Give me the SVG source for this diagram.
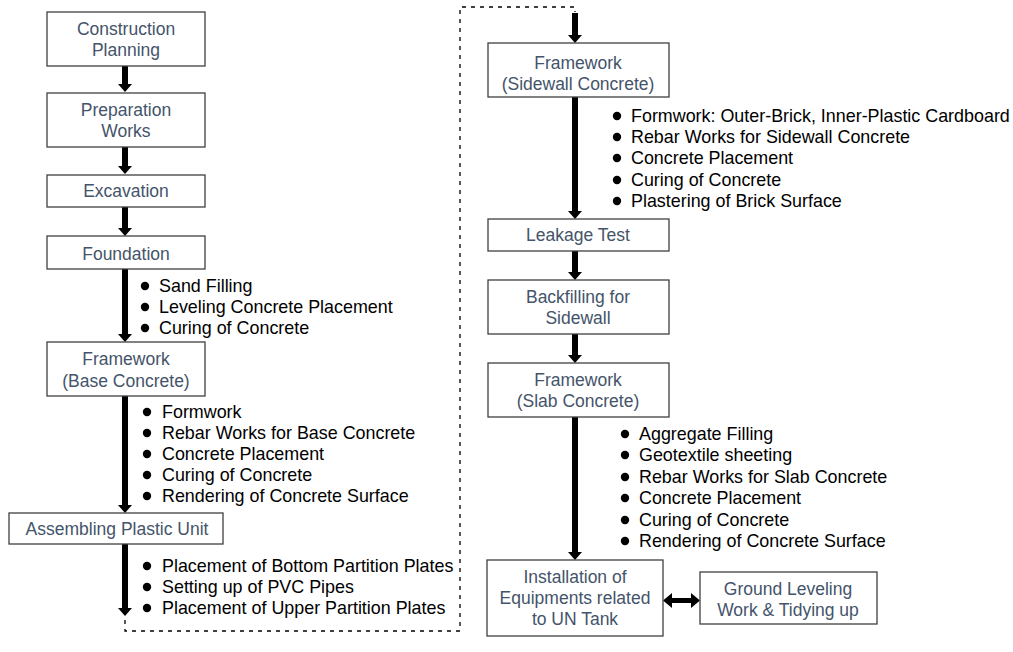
<svg xmlns="http://www.w3.org/2000/svg" width="1013" height="652" viewBox="0 0 1013 652">
<style>
.box{fill:#fff;stroke:#404040;stroke-width:1.3}
.bt{font-family:"Liberation Sans",Arial,sans-serif;font-size:17.5px;fill:#44546A;text-anchor:middle}
.li{font-family:"Liberation Sans",Arial,sans-serif;font-size:17.9px;fill:#000}
.dot{fill:#000}
.arr{fill:#000}
.dash{fill:none;stroke:#000;stroke-width:1.3;stroke-dasharray:4 5}
</style>
<rect width="1013" height="652" fill="#fff"/>
<g id="connectors">
<path class="arr" d="M122,66H128V84H132L125,92L118,84H122Z"/>
<path class="arr" d="M122,147H128V166H132L125,174L118,166H122Z"/>
<path class="arr" d="M122,207H128V228H132L125,236L118,228H122Z"/>
<path class="arr" d="M122,269H128V334H132L125,342L118,334H122Z"/>
<path class="arr" d="M122,396H128V505H132L125,513L118,505H122Z"/>
<path class="arr" d="M122,544H128V608H132L125,616L118,608H122Z"/>
<path class="dash" d="M125,620V631H460V7H575V12"/>
<path class="arr" d="M572,13H578V35H582L575,43L568,35H572Z"/>
<path class="arr" d="M572,97H578V211H582L575,219L568,211H572Z"/>
<path class="arr" d="M572,251H578V272H582L575,280L568,272H572Z"/>
<path class="arr" d="M572,334H578V355H582L575,363L568,355H572Z"/>
<path class="arr" d="M572,417H578V552H582L575,560L568,552H572Z"/>
<path class="arr" d="M663,600.5L672,593V598H691V593L700,600.5L691,608V603H672V608Z"/>
</g>
<g id="n1"><rect class="box" x="47" y="12" width="158" height="54"/><text class="bt" x="126" y="35">Construction</text><text class="bt" x="126" y="56">Planning</text></g>
<g id="n2"><rect class="box" x="47" y="93" width="158" height="54"/><text class="bt" x="126" y="116">Preparation</text><text class="bt" x="126" y="137">Works</text></g>
<g id="n3"><rect class="box" x="47" y="175" width="158" height="32"/><text class="bt" x="126" y="197">Excavation</text></g>
<g id="n4"><rect class="box" x="47" y="236" width="158" height="33"/><text class="bt" x="126" y="260">Foundation</text></g>
<g id="l4">
<circle class="dot" cx="145" cy="286" r="4.2"/><text class="li" x="159" y="292">Sand Filling</text>
<circle class="dot" cx="145" cy="307" r="4.2"/><text class="li" x="159" y="313">Leveling Concrete Placement</text>
<circle class="dot" cx="145" cy="328" r="4.2"/><text class="li" x="159" y="334">Curing of Concrete</text>
</g>
<g id="n5"><rect class="box" x="47" y="342" width="158" height="54"/><text class="bt" x="126" y="365">Framework</text><text class="bt" x="126" y="387">(Base Concrete)</text></g>
<g id="l5">
<circle class="dot" cx="147" cy="412" r="4.2"/><text class="li" x="162" y="418">Formwork</text>
<circle class="dot" cx="147" cy="433" r="4.2"/><text class="li" x="162" y="439">Rebar Works for Base Concrete</text>
<circle class="dot" cx="147" cy="454" r="4.2"/><text class="li" x="162" y="460">Concrete Placement</text>
<circle class="dot" cx="147" cy="475" r="4.2"/><text class="li" x="162" y="481">Curing of Concrete</text>
<circle class="dot" cx="147" cy="496" r="4.2"/><text class="li" x="162" y="502">Rendering of Concrete Surface</text>
</g>
<g id="n6"><rect class="box" x="9" y="513" width="214" height="31"/><text class="bt" x="117" y="535">Assembling Plastic Unit</text></g>
<g id="l6">
<circle class="dot" cx="147" cy="566" r="4.2"/><text class="li" x="162" y="572">Placement of Bottom Partition Plates</text>
<circle class="dot" cx="147" cy="587" r="4.2"/><text class="li" x="162" y="593">Setting up of PVC Pipes</text>
<circle class="dot" cx="147" cy="608" r="4.2"/><text class="li" x="162" y="614">Placement of Upper Partition Plates</text>
</g>
<g id="n7"><rect class="box" x="488" y="43" width="181" height="54"/><text class="bt" x="578" y="69">Framework</text><text class="bt" x="578" y="90">(Sidewall Concrete)</text></g>
<g id="l7">
<circle class="dot" cx="617" cy="116" r="4.2"/><text class="li" x="631" y="122">Formwork: Outer-Brick, Inner-Plastic Cardboard</text>
<circle class="dot" cx="617" cy="137" r="4.2"/><text class="li" x="631" y="143">Rebar Works for Sidewall Concrete</text>
<circle class="dot" cx="617" cy="158" r="4.2"/><text class="li" x="631" y="164">Concrete Placement</text>
<circle class="dot" cx="617" cy="180" r="4.2"/><text class="li" x="631" y="186">Curing of Concrete</text>
<circle class="dot" cx="617" cy="201" r="4.2"/><text class="li" x="631" y="207">Plastering of Brick Surface</text>
</g>
<g id="n8"><rect class="box" x="488" y="219" width="181" height="32"/><text class="bt" x="578" y="241">Leakage Test</text></g>
<g id="n9"><rect class="box" x="488" y="280" width="181" height="54"/><text class="bt" x="578" y="303">Backfilling for</text><text class="bt" x="578" y="324">Sidewall</text></g>
<g id="n10"><rect class="box" x="488" y="363" width="181" height="54"/><text class="bt" x="578" y="386">Framework</text><text class="bt" x="578" y="407">(Slab Concrete)</text></g>
<g id="l10">
<circle class="dot" cx="625" cy="434" r="4.2"/><text class="li" x="639" y="440">Aggregate Filling</text>
<circle class="dot" cx="625" cy="455" r="4.2"/><text class="li" x="639" y="461">Geotextile sheeting</text>
<circle class="dot" cx="625" cy="477" r="4.2"/><text class="li" x="639" y="483">Rebar Works for Slab Concrete</text>
<circle class="dot" cx="625" cy="498" r="4.2"/><text class="li" x="639" y="504">Concrete Placement</text>
<circle class="dot" cx="625" cy="520" r="4.2"/><text class="li" x="639" y="526">Curing of Concrete</text>
<circle class="dot" cx="625" cy="541" r="4.2"/><text class="li" x="639" y="547">Rendering of Concrete Surface</text>
</g>
<g id="n11"><rect class="box" x="487" y="560" width="176" height="76"/><text class="bt" x="575" y="583">Installation of</text><text class="bt" x="575" y="604">Equipments related</text><text class="bt" x="575" y="625">to UN Tank</text></g>
<g id="n12"><rect class="box" x="700" y="572" width="177" height="52"/><text class="bt" x="788" y="595">Ground Leveling</text><text class="bt" x="788" y="616">Work &amp; Tidying up</text></g>
</svg>
